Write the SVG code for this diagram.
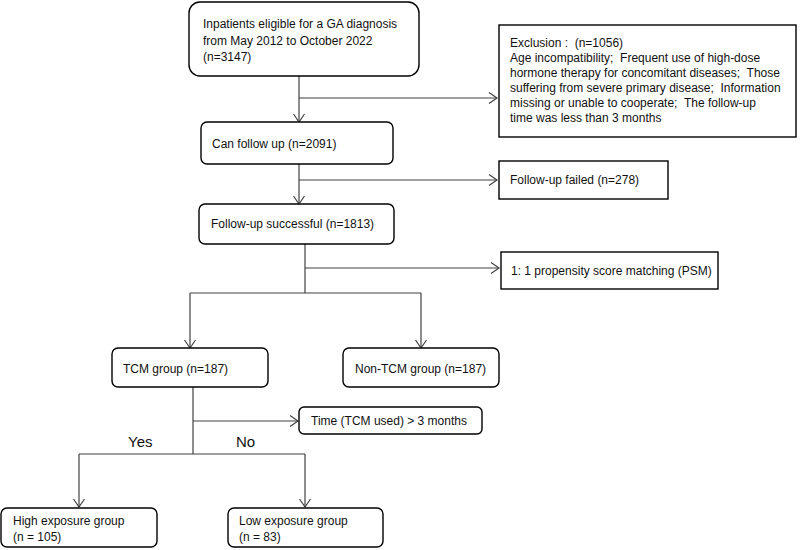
<svg xmlns="http://www.w3.org/2000/svg" width="800" height="550" viewBox="0 0 800 550">
<style>
  .box { fill: #ffffff; stroke: #000000; stroke-width: 1.4; }
  .t { font-family: "Liberation Sans", Arial, sans-serif; font-size: 12px; fill: #111111; }
  .lbl { font-family: "Liberation Sans", Arial, sans-serif; font-size: 15px; fill: #111111; }
  .ln { fill: none; stroke: #404040; stroke-width: 1.2; }
  .arr { fill: none; stroke: #404040; stroke-width: 1.2; marker-end: url(#ah); }
</style>
<defs>
  <marker id="ah" markerUnits="userSpaceOnUse" markerWidth="12" markerHeight="14" refX="9" refY="7" orient="auto">
    <path d="M1,1.5 L9,7 L1,12.5" fill="none" stroke="#404040" stroke-width="1.2"/>
  </marker>
</defs>
<rect width="800" height="550" fill="#ffffff"/>

<g id="connectors">
  <line class="arr" x1="299" y1="76" x2="299" y2="122"/>
  <line class="arr" x1="299" y1="98" x2="497" y2="98"/>
  <line class="arr" x1="299" y1="164" x2="299" y2="204"/>
  <line class="arr" x1="299" y1="180" x2="497" y2="180"/>
  <line class="ln" x1="305" y1="244" x2="305" y2="293"/>
  <line class="arr" x1="305" y1="268" x2="499" y2="268"/>
  <line class="ln" x1="190" y1="293" x2="421" y2="293"/>
  <line class="arr" x1="190" y1="293" x2="190" y2="348"/>
  <line class="arr" x1="421" y1="293" x2="421" y2="348"/>
  <line class="ln" x1="193" y1="387" x2="193" y2="454"/>
  <line class="arr" x1="193" y1="421" x2="298" y2="421"/>
  <line class="ln" x1="79" y1="454" x2="305" y2="454"/>
  <line class="arr" x1="79" y1="454" x2="79" y2="507"/>
  <line class="arr" x1="305" y1="454" x2="305" y2="507"/>
  <text class="lbl" x="128" y="447">Yes</text>
  <text class="lbl" x="236" y="447">No</text>
</g>

<g id="eligible">
  <rect class="box" x="189" y="2" width="230" height="74" rx="11"/>
  <text class="t" x="203" y="28">Inpatients eligible for a GA diagnosis</text>
  <text class="t" x="203" y="45">from May 2012 to October 2022</text>
  <text class="t" x="203" y="61">(n=3147)</text>
</g>

<g id="exclusion">
  <rect class="box" x="499" y="25" width="297" height="112"/>
  <text class="t" x="510" y="47">Exclusion :&#160; (n=1056)</text>
  <text class="t" x="510" y="62">Age incompatibility;&#160; Frequent use of high-dose</text>
  <text class="t" x="510" y="77">hormone therapy for concomitant diseases;&#160; Those</text>
  <text class="t" x="510" y="92">suffering from severe primary disease;&#160; Information</text>
  <text class="t" x="510" y="107">missing or unable to cooperate;&#160; The follow-up</text>
  <text class="t" x="510" y="122">time was less than 3 months</text>
</g>

<g id="canfollow">
  <rect class="box" x="201" y="122" width="192" height="42" rx="6"/>
  <text class="t" x="212" y="148">Can follow up (n=2091)</text>
</g>

<g id="failed">
  <rect class="box" x="499" y="161" width="169" height="38"/>
  <text class="t" x="510" y="184">Follow-up failed (n=278)</text>
</g>

<g id="successful">
  <rect class="box" x="199" y="204" width="195" height="40" rx="6"/>
  <text class="t" x="211" y="228">Follow-up successful (n=1813)</text>
</g>

<g id="psm">
  <rect class="box" x="501" y="252" width="217" height="37"/>
  <text class="t" x="511" y="275">1: 1 propensity score matching (PSM)</text>
</g>

<g id="tcm">
  <rect class="box" x="112" y="348" width="156" height="39" rx="6"/>
  <text class="t" x="123" y="373">TCM group (n=187)</text>
</g>

<g id="nontcm">
  <rect class="box" x="343" y="348" width="156" height="39" rx="6"/>
  <text class="t" x="355" y="373">Non-TCM group (n=187)</text>
</g>

<g id="time">
  <rect class="box" x="299" y="407" width="183" height="27" rx="5"/>
  <text class="t" x="311" y="425">Time (TCM used) &gt; 3 months</text>
</g>

<g id="high">
  <rect class="box" x="1" y="508" width="156" height="39" rx="6"/>
  <text class="t" x="13" y="525">High exposure group</text>
  <text class="t" x="13" y="541">(n = 105)</text>
</g>

<g id="low">
  <rect class="box" x="228" y="508" width="155" height="39" rx="6"/>
  <text class="t" x="239" y="525">Low exposure group</text>
  <text class="t" x="239" y="541">(n = 83)</text>
</g>
</svg>
